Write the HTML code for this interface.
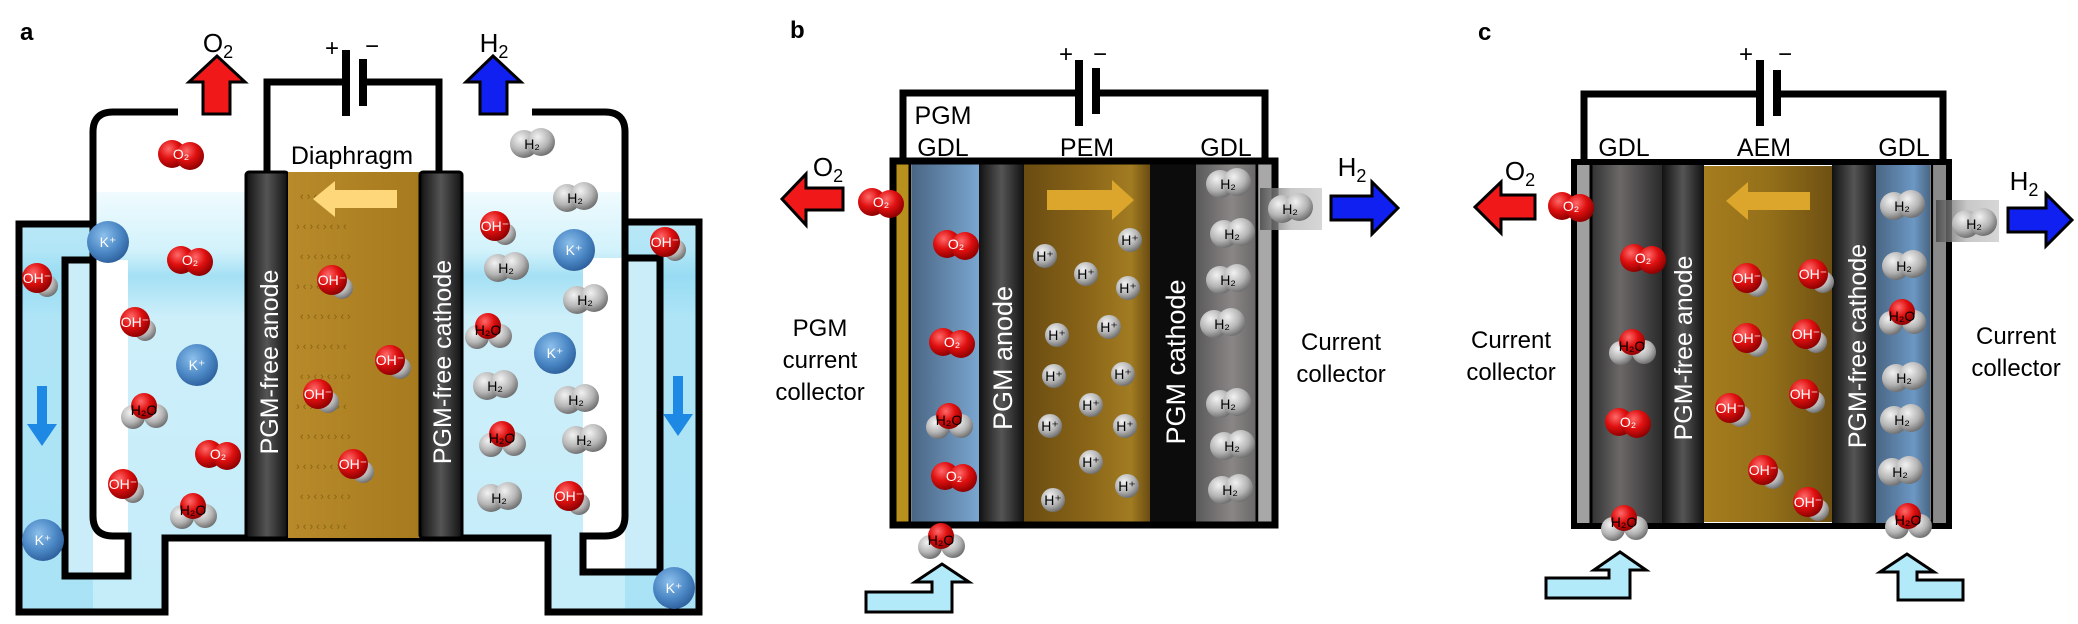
<!DOCTYPE html>
<html><head><meta charset="utf-8"><style>
html,body{margin:0;padding:0;background:#fff;}
svg{display:block;font-family:"Liberation Sans",sans-serif;}
</style></head><body>
<svg width="2078" height="624" viewBox="0 0 2078 624" xmlns="http://www.w3.org/2000/svg">
<defs>
<radialGradient id="rd" cx="0.38" cy="0.32" r="0.7"><stop offset="0" stop-color="#ff6a6a"/><stop offset="0.5" stop-color="#e01010"/><stop offset="1" stop-color="#8c0000"/></radialGradient>
<radialGradient id="gr" cx="0.38" cy="0.32" r="0.7"><stop offset="0" stop-color="#f2f2f2"/><stop offset="0.6" stop-color="#b4b4b4"/><stop offset="1" stop-color="#6e6e6e"/></radialGradient>
<radialGradient id="bl" cx="0.4" cy="0.35" r="0.7"><stop offset="0" stop-color="#8cc0ec"/><stop offset="0.6" stop-color="#4a86c4"/><stop offset="1" stop-color="#2a5c98"/></radialGradient>
<linearGradient id="liq" x1="0" y1="0" x2="0" y2="1"><stop offset="0" stop-color="#f0fbfe"/><stop offset="0.14" stop-color="#d2f2fb"/><stop offset="0.2" stop-color="#a4e0f4"/><stop offset="0.3" stop-color="#cdeffa"/><stop offset="1" stop-color="#c4ecf9"/></linearGradient>
<linearGradient id="blk" x1="0" y1="0" x2="1" y2="0"><stop offset="0" stop-color="#111"/><stop offset="0.5" stop-color="#555"/><stop offset="1" stop-color="#111"/></linearGradient>
<linearGradient id="brA" x1="0" y1="0" x2="1" y2="0"><stop offset="0" stop-color="#b88a2a"/><stop offset="1" stop-color="#a67a1e"/></linearGradient>
<linearGradient id="brB" x1="0" y1="0" x2="1" y2="0"><stop offset="0" stop-color="#6a4c12"/><stop offset="0.5" stop-color="#8a6518"/><stop offset="0.85" stop-color="#a27c22"/><stop offset="1" stop-color="#6a4c12"/></linearGradient>
<linearGradient id="brC" x1="0" y1="0" x2="1" y2="0"><stop offset="0" stop-color="#a67c1e"/><stop offset="0.5" stop-color="#94701a"/><stop offset="1" stop-color="#6e5012"/></linearGradient>
<linearGradient id="gdlB" x1="0" y1="0" x2="1" y2="0"><stop offset="0" stop-color="#4a6684"/><stop offset="1" stop-color="#7aa6d0"/></linearGradient>
<linearGradient id="gdlC" x1="0" y1="0" x2="1" y2="0"><stop offset="0" stop-color="#4a6684"/><stop offset="0.7" stop-color="#6c98c4"/><stop offset="1" stop-color="#4a6684"/></linearGradient>
<linearGradient id="gry" x1="0" y1="0" x2="1" y2="0"><stop offset="0" stop-color="#5a5a5a"/><stop offset="0.6" stop-color="#8a8686"/><stop offset="1" stop-color="#6a6868"/></linearGradient>
<linearGradient id="gryC" x1="0" y1="0" x2="1" y2="0"><stop offset="0" stop-color="#333"/><stop offset="0.4" stop-color="#6c6868"/><stop offset="1" stop-color="#2a2a2a"/></linearGradient>
<linearGradient id="fade" x1="0" y1="0" x2="1" y2="0"><stop offset="0" stop-color="#444"/><stop offset="0.5" stop-color="#bbb"/><stop offset="1" stop-color="#ccc"/></linearGradient>
<g id="o2"><circle cx="-9" cy="0" r="14" fill="url(#rd)"/><circle cx="9" cy="2" r="14" fill="url(#rd)"/></g>
<g id="oh"><circle cx="10" cy="8" r="11" fill="url(#gr)"/><circle cx="0" cy="0" r="15" fill="url(#rd)"/></g>
<g id="h2o"><circle cx="-11" cy="7" r="12" fill="url(#gr)"/><circle cx="12" cy="6" r="12" fill="url(#gr)"/><circle cx="0" cy="-4" r="13" fill="url(#rd)"/></g>
<g id="h2"><circle cx="-8" cy="0" r="14" fill="url(#gr)"/><circle cx="9" cy="-2" r="14" fill="url(#gr)"/></g>
<g id="k"><circle r="21" fill="url(#bl)"/></g>
<g id="hp"><circle r="12" fill="url(#gr)"/></g>
</defs>

<!-- ============ PANEL A ============ -->
<text x="20" y="40" font-size="24" font-weight="bold">a</text>
<path d="M93,192 H625 V222 H699 V612 H548 V538 H165 V612 H19 V224 H93 Z" fill="url(#liq)"/>
<rect x="65" y="260" width="63" height="316" fill="#fff"/>
<rect x="583" y="258" width="77" height="314" fill="#fff"/>
<rect x="19" y="224" width="74" height="388" fill="#8ad8f2" opacity="0.45"/>
<rect x="625" y="222" width="74" height="390" fill="#8ad8f2" opacity="0.45"/>
<g fill="none" stroke="#000" stroke-width="7" stroke-linejoin="miter">
<path d="M178,112 H113 Q93,112 93,132 V224 H19 V612 H165 V538 H548 V612 H699 V222 H625 V132 Q625,112 605,112 H532"/>
<path d="M93,224 V516 Q93,536 113,536 H128 V576 H65 V260 H93"/>
<path d="M625,222 V516 Q625,536 605,536 H583 V572 H660 V258 H625"/>
</g>
<path d="M267,172 V82 H342 M366,82 H439 V172" fill="none" stroke="#000" stroke-width="7"/>
<rect x="342" y="50" width="8" height="66" fill="#000"/>
<rect x="359" y="59" width="8" height="47" fill="#000"/>
<text x="332" y="56" font-size="24" text-anchor="middle">+</text>
<text x="372" y="54" font-size="24" text-anchor="middle">−</text>
<polygon points="203,114 203,82 189,82 217,56 245,82 230,82 230,114" fill="#f01818" stroke="#000" stroke-width="3"/>
<text x="218" y="52" font-size="26" text-anchor="middle">O<tspan font-size="18" dy="6">2</tspan></text>
<polygon points="480,114 480,82 466,82 493,56 521,82 507,82 507,114" fill="#1020f0" stroke="#000" stroke-width="3"/>
<text x="494" y="52" font-size="26" text-anchor="middle">H<tspan font-size="18" dy="6">2</tspan></text>
<rect x="246" y="172" width="42" height="366" rx="3" fill="url(#blk)" stroke="#000" stroke-width="3"/>
<rect x="288" y="172" width="132" height="366" fill="url(#brA)"/>
<g fill="#7a5a12" font-size="11" opacity="0.8">
<text x="300" y="200">‹ › ‹ › ‹ › ‹ ›</text><text x="296" y="230">› ‹ › ‹ › ‹ › ‹</text><text x="300" y="260">‹ › ‹ › ‹ › ‹ ›</text><text x="296" y="290">› ‹ › ‹ › ‹ › ‹</text><text x="300" y="320">‹ › ‹ › ‹ › ‹ ›</text><text x="296" y="350">› ‹ › ‹ › ‹ › ‹</text><text x="300" y="380">‹ › ‹ › ‹ › ‹ ›</text><text x="296" y="410">› ‹ › ‹ › ‹ › ‹</text><text x="300" y="440">‹ › ‹ › ‹ › ‹ ›</text><text x="296" y="470">› ‹ › ‹ › ‹ › ‹</text><text x="300" y="500">‹ › ‹ › ‹ › ‹ ›</text><text x="296" y="530">› ‹ › ‹ › ‹ › ‹</text>
</g>
<rect x="420" y="172" width="42" height="366" rx="3" fill="url(#blk)" stroke="#000" stroke-width="3"/>
<text x="352" y="164" font-size="25" text-anchor="middle">Diaphragm</text>
<polygon points="313,199 335,181 335,190 397,190 397,208 335,208 335,217" fill="#fdd77a"/>
<text transform="translate(278,362) rotate(-90)" font-size="25" fill="#fff" text-anchor="middle">PGM-free anode</text>
<text transform="translate(451,362) rotate(-90)" font-size="25" fill="#fff" text-anchor="middle">PGM-free cathode</text>
<polygon points="37,386 47,386 47,424 57,424 42,446 27,424 37,424" fill="#1e88e5"/>
<polygon points="673,376 683,376 683,414 693,414 678,436 663,414 673,414" fill="#1e88e5"/>
<g font-size="14" text-anchor="middle">
<use href="#o2" x="181" y="154"/><text x="181" y="159" fill="#fff">O₂</text>
<use href="#o2" x="190" y="260"/><text x="190" y="265" fill="#fff">O₂</text>
<use href="#o2" x="218" y="454"/><text x="218" y="459" fill="#fff">O₂</text>
<use href="#oh" x="37" y="278"/><text x="37" y="283" fill="#fff">OH⁻</text>
<use href="#oh" x="135" y="322"/><text x="135" y="327" fill="#fff">OH⁻</text>
<use href="#oh" x="123" y="484"/><text x="123" y="489" fill="#fff">OH⁻</text>
<use href="#oh" x="332" y="280"/><text x="332" y="285" fill="#fff">OH⁻</text>
<use href="#oh" x="390" y="360"/><text x="390" y="365" fill="#fff">OH⁻</text>
<use href="#oh" x="318" y="394"/><text x="318" y="399" fill="#fff">OH⁻</text>
<use href="#oh" x="353" y="464"/><text x="353" y="469" fill="#fff">OH⁻</text>
<use href="#oh" x="495" y="226"/><text x="495" y="231" fill="#fff">OH⁻</text>
<use href="#oh" x="665" y="242"/><text x="665" y="247" fill="#fff">OH⁻</text>
<use href="#oh" x="569" y="496"/><text x="569" y="501" fill="#fff">OH⁻</text>
<use href="#k" x="108" y="242"/><text x="108" y="247" fill="#fff">K⁺</text>
<use href="#k" x="197" y="365"/><text x="197" y="370" fill="#fff">K⁺</text>
<use href="#k" x="43" y="540"/><text x="43" y="545" fill="#fff">K⁺</text>
<use href="#k" x="574" y="250"/><text x="574" y="255" fill="#fff">K⁺</text>
<use href="#k" x="555" y="353"/><text x="555" y="358" fill="#fff">K⁺</text>
<use href="#k" x="674" y="588"/><text x="674" y="593" fill="#fff">K⁺</text>
<use href="#h2o" x="144" y="410"/><text x="144" y="415">H₂O</text>
<use href="#h2o" x="193" y="510"/><text x="193" y="515">H₂O</text>
<use href="#h2o" x="488" y="330"/><text x="488" y="335">H₂O</text>
<use href="#h2o" x="502" y="438"/><text x="502" y="443">H₂O</text>
<use href="#h2" x="532" y="144"/><text x="532" y="149">H₂</text>
<use href="#h2" x="575" y="198"/><text x="575" y="203">H₂</text>
<use href="#h2" x="506" y="268"/><text x="506" y="273">H₂</text>
<use href="#h2" x="585" y="300"/><text x="585" y="305">H₂</text>
<use href="#h2" x="495" y="386"/><text x="495" y="391">H₂</text>
<use href="#h2" x="576" y="400"/><text x="576" y="405">H₂</text>
<use href="#h2" x="584" y="440"/><text x="584" y="445">H₂</text>
<use href="#h2" x="499" y="498"/><text x="499" y="503">H₂</text>
</g>

<!-- ============ PANEL B ============ -->
<text x="790" y="38" font-size="24" font-weight="bold">b</text>
<path d="M903,160 V93 H1076 M1100,93 H1265 V160" fill="none" stroke="#000" stroke-width="7"/>
<rect x="1075" y="60" width="8" height="66" fill="#000"/>
<rect x="1092" y="68" width="8" height="46" fill="#000"/>
<text x="1066" y="62" font-size="24" text-anchor="middle">+</text>
<text x="1100" y="62" font-size="24" text-anchor="middle">−</text>
<rect x="895" y="162" width="14" height="361" fill="#b8901e"/>
<rect x="912" y="162" width="67" height="361" fill="url(#gdlB)"/>
<rect x="979" y="160" width="45" height="366" fill="url(#blk)"/>
<rect x="1024" y="162" width="126" height="361" fill="url(#brB)"/>
<rect x="1150" y="160" width="46" height="366" fill="#0c0c0c"/>
<rect x="1196" y="162" width="60" height="361" fill="url(#gry)"/>
<rect x="1259" y="162" width="14" height="361" fill="#a8a8a8"/>
<rect x="893" y="161" width="382" height="364" fill="none" stroke="#000" stroke-width="7"/>
<line x1="910" y1="162" x2="910" y2="523" stroke="#000" stroke-width="3"/>
<line x1="1257" y1="162" x2="1257" y2="523" stroke="#000" stroke-width="3"/>
<g font-size="25" text-anchor="middle">
<text x="943" y="124">PGM</text><text x="943" y="156">GDL</text>
<text x="1087" y="156">PEM</text><text x="1226" y="156">GDL</text>
<text x="820" y="336" font-size="24">PGM</text><text x="820" y="368" font-size="24">current</text><text x="820" y="400" font-size="24">collector</text>
<text x="1341" y="350" font-size="24">Current</text><text x="1341" y="382" font-size="24">collector</text>
</g>
<polygon points="1047,190 1112,190 1112,180 1134,200 1112,220 1112,210 1047,210" fill="#dca62c"/>
<text transform="translate(1012,358) rotate(-90)" font-size="27" fill="#fff" text-anchor="middle">PGM anode</text>
<text transform="translate(1185,362) rotate(-90)" font-size="27" fill="#fff" text-anchor="middle">PGM cathode</text>
<polygon points="843,188 806,188 806,174 782,199 806,225 806,210 843,210" fill="#f01818" stroke="#000" stroke-width="3"/>
<text x="828" y="176" font-size="26" text-anchor="middle">O<tspan font-size="18" dy="6">2</tspan></text>
<rect x="1260" y="188" width="62" height="42" fill="url(#fade)" opacity="0.8"/>
<polygon points="1331,196 1372,196 1372,182 1398,208 1372,234 1372,220 1331,220" fill="#1020f0" stroke="#000" stroke-width="3"/>
<text x="1352" y="176" font-size="26" text-anchor="middle">H<tspan font-size="18" dy="6">2</tspan></text>
<polygon points="866,592 932,592 932,582 915,582 942,564 969,582 952,582 952,612 866,612" fill="#b2eafa" stroke="#000" stroke-width="3"/>
<g font-size="14" text-anchor="middle">
<use href="#o2" x="881" y="202"/><text x="881" y="207" fill="#fff">O₂</text>
<use href="#o2" x="956" y="244"/><text x="956" y="249" fill="#fff">O₂</text>
<use href="#o2" x="952" y="342"/><text x="952" y="347" fill="#fff">O₂</text>
<use href="#o2" x="954" y="476"/><text x="954" y="481" fill="#fff">O₂</text>
<use href="#h2o" x="949" y="420"/><text x="949" y="425">H₂O</text>
<use href="#h2o" x="941" y="540"/><text x="941" y="545">H₂O</text>
<use href="#hp" x="1045" y="256"/><text x="1045" y="261">H⁺</text>
<use href="#hp" x="1086" y="274"/><text x="1086" y="279">H⁺</text>
<use href="#hp" x="1130" y="240"/><text x="1130" y="245">H⁺</text>
<use href="#hp" x="1128" y="288"/><text x="1128" y="293">H⁺</text>
<use href="#hp" x="1057" y="335"/><text x="1057" y="340">H⁺</text>
<use href="#hp" x="1109" y="327"/><text x="1109" y="332">H⁺</text>
<use href="#hp" x="1054" y="376"/><text x="1054" y="381">H⁺</text>
<use href="#hp" x="1123" y="374"/><text x="1123" y="379">H⁺</text>
<use href="#hp" x="1091" y="405"/><text x="1091" y="410">H⁺</text>
<use href="#hp" x="1050" y="426"/><text x="1050" y="431">H⁺</text>
<use href="#hp" x="1125" y="426"/><text x="1125" y="431">H⁺</text>
<use href="#hp" x="1091" y="462"/><text x="1091" y="467">H⁺</text>
<use href="#hp" x="1127" y="486"/><text x="1127" y="491">H⁺</text>
<use href="#hp" x="1053" y="500"/><text x="1053" y="505">H⁺</text>
<use href="#h2" x="1228" y="184"/><text x="1228" y="189">H₂</text>
<use href="#h2" x="1232" y="234"/><text x="1232" y="239">H₂</text>
<use href="#h2" x="1228" y="280"/><text x="1228" y="285">H₂</text>
<use href="#h2" x="1222" y="324"/><text x="1222" y="329">H₂</text>
<use href="#h2" x="1228" y="404"/><text x="1228" y="409">H₂</text>
<use href="#h2" x="1232" y="446"/><text x="1232" y="451">H₂</text>
<use href="#h2" x="1230" y="490"/><text x="1230" y="495">H₂</text>
<use href="#h2" x="1290" y="209"/><text x="1290" y="214">H₂</text>
</g>

<!-- ============ PANEL C ============ -->
<text x="1478" y="40" font-size="24" font-weight="bold">c</text>
<path d="M1584,160 V94 H1757 M1781,94 H1943 V160" fill="none" stroke="#000" stroke-width="7"/>
<rect x="1756" y="60" width="8" height="66" fill="#000"/>
<rect x="1773" y="70" width="8" height="46" fill="#000"/>
<text x="1746" y="62" font-size="24" text-anchor="middle">+</text>
<text x="1785" y="62" font-size="24" text-anchor="middle">−</text>
<rect x="1576" y="164" width="14" height="360" fill="#a0a0a0"/>
<rect x="1592" y="164" width="70" height="360" fill="url(#gryC)"/>
<rect x="1662" y="162" width="42" height="364" fill="url(#blk)"/>
<rect x="1704" y="166" width="128" height="356" fill="url(#brC)"/>
<rect x="1832" y="162" width="44" height="364" fill="url(#blk)"/>
<rect x="1876" y="164" width="54" height="360" fill="url(#gdlC)"/>
<rect x="1934" y="164" width="13" height="360" fill="#8a8a8a"/>
<rect x="1574" y="162" width="375" height="364" fill="none" stroke="#000" stroke-width="6"/>
<line x1="1591" y1="164" x2="1591" y2="524" stroke="#000" stroke-width="3"/>
<line x1="1932" y1="164" x2="1932" y2="524" stroke="#000" stroke-width="3"/>
<g font-size="25" text-anchor="middle">
<text x="1624" y="156">GDL</text><text x="1764" y="156">AEM</text><text x="1904" y="156">GDL</text>
<text x="1511" y="348" font-size="24">Current</text><text x="1511" y="380" font-size="24">collector</text>
<text x="2016" y="344" font-size="24">Current</text><text x="2016" y="376" font-size="24">collector</text>
</g>
<polygon points="1726,201 1748,182 1748,192 1810,192 1810,210 1748,210 1748,220" fill="#dca62c"/>
<text transform="translate(1692,348) rotate(-90)" font-size="25" fill="#fff" text-anchor="middle">PGM-free anode</text>
<text transform="translate(1866,346) rotate(-90)" font-size="25" fill="#fff" text-anchor="middle">PGM-free cathode</text>
<polygon points="1535,195 1501,195 1501,182 1475,207 1501,233 1501,219 1535,219" fill="#f01818" stroke="#000" stroke-width="3"/>
<text x="1520" y="180" font-size="26" text-anchor="middle">O<tspan font-size="18" dy="6">2</tspan></text>
<rect x="1936" y="200" width="63" height="42" fill="url(#fade)" opacity="0.8"/>
<polygon points="2008,208 2046,208 2046,194 2072,220 2046,246 2046,232 2008,232" fill="#1020f0" stroke="#000" stroke-width="3"/>
<text x="2024" y="190" font-size="26" text-anchor="middle">H<tspan font-size="18" dy="6">2</tspan></text>
<polygon points="1546,578 1609,578 1609,570 1594,570 1620,552 1646,570 1630,570 1630,598 1546,598" fill="#b2eafa" stroke="#000" stroke-width="3"/>
<polygon points="1963,580 1917,580 1917,572 1934,572 1907,554 1880,572 1898,572 1898,600 1963,600" fill="#b2eafa" stroke="#000" stroke-width="3"/>
<g font-size="14" text-anchor="middle">
<use href="#o2" x="1571" y="206"/><text x="1571" y="211" fill="#fff">O₂</text>
<use href="#o2" x="1643" y="258"/><text x="1643" y="263" fill="#fff">O₂</text>
<use href="#o2" x="1628" y="422"/><text x="1628" y="427" fill="#fff">O₂</text>
<use href="#h2o" x="1632" y="346"/><text x="1632" y="351">H₂O</text>
<use href="#h2o" x="1624" y="522"/><text x="1624" y="527">H₂O</text>
<use href="#h2o" x="1902" y="316"/><text x="1902" y="321">H₂O</text>
<use href="#h2o" x="1908" y="520"/><text x="1908" y="525">H₂O</text>
<use href="#oh" x="1747" y="278"/><text x="1747" y="283" fill="#fff">OH⁻</text>
<use href="#oh" x="1813" y="274"/><text x="1813" y="279" fill="#fff">OH⁻</text>
<use href="#oh" x="1747" y="338"/><text x="1747" y="343" fill="#fff">OH⁻</text>
<use href="#oh" x="1806" y="334"/><text x="1806" y="339" fill="#fff">OH⁻</text>
<use href="#oh" x="1730" y="408"/><text x="1730" y="413" fill="#fff">OH⁻</text>
<use href="#oh" x="1804" y="394"/><text x="1804" y="399" fill="#fff">OH⁻</text>
<use href="#oh" x="1763" y="470"/><text x="1763" y="475" fill="#fff">OH⁻</text>
<use href="#oh" x="1808" y="502"/><text x="1808" y="507" fill="#fff">OH⁻</text>
<use href="#h2" x="1902" y="206"/><text x="1902" y="211">H₂</text>
<use href="#h2" x="1904" y="266"/><text x="1904" y="271">H₂</text>
<use href="#h2" x="1904" y="378"/><text x="1904" y="383">H₂</text>
<use href="#h2" x="1902" y="420"/><text x="1902" y="425">H₂</text>
<use href="#h2" x="1900" y="472"/><text x="1900" y="477">H₂</text>
<use href="#h2" x="1974" y="224"/><text x="1974" y="229">H₂</text>
</g>
</svg>
</body></html>
